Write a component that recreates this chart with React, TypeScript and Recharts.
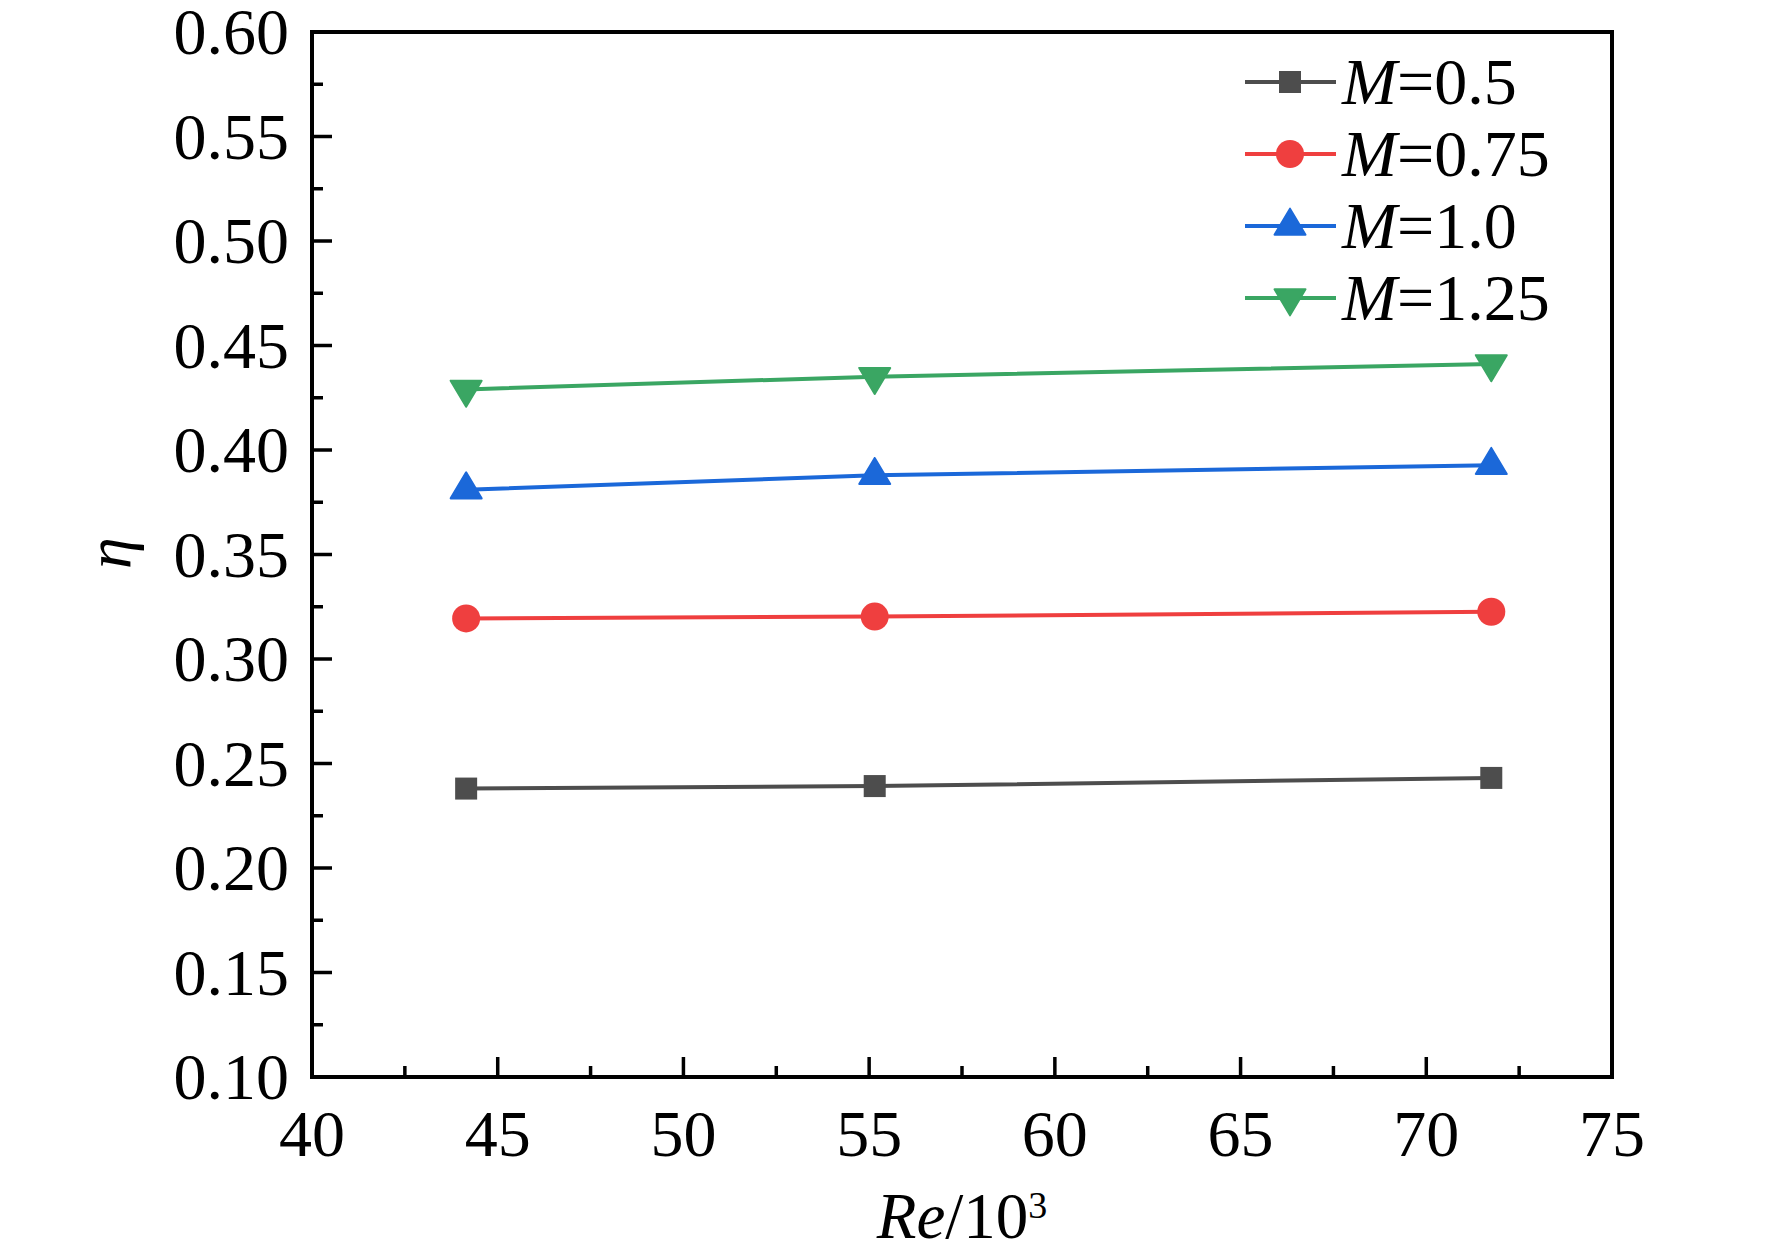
import React from 'react';
import { LineChart, Line, XAxis, YAxis, ReferenceArea, Legend, Label } from 'recharts';

const FONT = '"Liberation Serif", "Times New Roman", serif';

// Re/10^3 values (x)
const reValues = [44.15, 55.15, 71.75];
// efficiency eta for each Mach number
const etaM05 = [0.238, 0.2392, 0.2431];
const etaM075 = [0.3194, 0.3203, 0.3226];
const etaM10 = [0.381, 0.3879, 0.3927];
const etaM125 = [0.429, 0.4351, 0.4412];

const seriesKeys = ['m05', 'm075', 'm10', 'm125'];
const seriesLabels = ['0.5', '0.75', '1.0', '1.25'];
const seriesColors = ['#4D4D4D', '#EF3F3F', '#1B68D9', '#3AA663'];
const seriesMarkers = ['square', 'circle', 'triUp', 'triDown'];

const xMajorTicks = [40, 45, 50, 55, 60, 65, 70, 75];
const xMinorTicks = [42.5, 47.5, 52.5, 57.5, 62.5, 67.5, 72.5];
const yMajorTicks = [0.1, 0.15, 0.2, 0.25, 0.3, 0.35, 0.4, 0.45, 0.5, 0.55, 0.6];
const yMinorTicks = [0.125, 0.175, 0.225, 0.275, 0.325, 0.375, 0.425, 0.475, 0.525, 0.575];

const data = reValues.map((re, i) => ({
  re,
  m05: etaM05[i],
  m075: etaM075[i],
  m10: etaM10[i],
  m125: etaM125[i],
}));

const xTicks = [...xMajorTicks, ...xMinorTicks].sort((a, b) => a - b);
const yTicks = [...yMajorTicks, ...yMinorTicks].sort((a, b) => a - b);

function Marker({ type, cx, cy, color }: { type: string; cx: number; cy: number; color: string }) {
  if (type === 'square') {
    return <rect x={cx - 11} y={cy - 11} width={22} height={22} fill={color} />;
  }
  if (type === 'circle') {
    return <circle cx={cx} cy={cy} r={14} fill={color} />;
  }
  const w = 15.5;
  const h = 26;
  if (type === 'triUp') {
    const pts = `${cx},${cy - (2 * h) / 3} ${cx - w},${cy + h / 3} ${cx + w},${cy + h / 3}`;
    return <polygon points={pts} fill={color} stroke={color} strokeWidth={2} strokeLinejoin="round" />;
  }
  const pts = `${cx - w},${cy - h / 3} ${cx + w},${cy - h / 3} ${cx},${cy + (2 * h) / 3}`;
  return <polygon points={pts} fill={color} stroke={color} strokeWidth={2} strokeLinejoin="round" />;
}

const XTick = (props: any) => {
  const { x, y, payload } = props;
  const major = xMajorTicks.includes(payload.value);
  return (
    <g>
      <line x1={x} x2={x} y1={y} y2={y - (major ? 20 : 11)} stroke="#000" strokeWidth={3.5} />
      {major && (
        <text x={x} y={y + 79} textAnchor="middle" fontSize={66} fontFamily={FONT} fill="#000">
          {payload.value}
        </text>
      )}
    </g>
  );
};

const YTick = (props: any) => {
  const { x, y, payload } = props;
  const major = yMajorTicks.includes(payload.value);
  return (
    <g>
      <line x1={x} x2={x + (major ? 20 : 11)} y1={y} y2={y} stroke="#000" strokeWidth={3.5} />
      {major && (
        <text x={x - 23} y={y + 22} textAnchor="end" fontSize={66} fontFamily={FONT} fill="#000">
          {payload.value.toFixed(2)}
        </text>
      )}
    </g>
  );
};

const renderLegend = () => (
  <div style={{ display: 'flex', flexDirection: 'column' }}>
    {seriesKeys.map((k, i) => (
      <div key={k} style={{ display: 'flex', alignItems: 'center', height: 72 }}>
        <svg width={97} height={50} style={{ display: 'block' }}>
          <line x1={0} x2={91} y1={25} y2={25} stroke={seriesColors[i]} strokeWidth={4} />
          <Marker type={seriesMarkers[i]} cx={45} cy={25} color={seriesColors[i]} />
        </svg>
        <span style={{ fontFamily: FONT, fontSize: 66, lineHeight: '72px', color: '#000', whiteSpace: 'nowrap' }}>
          <i>M</i>={seriesLabels[i]}
        </span>
      </div>
    ))}
  </div>
);

const XTitle = (props: any) => {
  const { viewBox } = props;
  const cx = viewBox.x + viewBox.width / 2;
  return (
    <text x={cx} y={1238} textAnchor="middle" fontSize={65} fontFamily={FONT} fill="#000">
      <tspan fontStyle="italic">Re</tspan>
      <tspan>/10</tspan>
      <tspan dy={-20} fontSize={38}>3</tspan>
    </text>
  );
};

const YTitle = () => (
  <text
    x={130}
    y={553}
    transform="rotate(-90 130 553)"
    textAnchor="middle"
    fontSize={64}
    fontStyle="italic"
    fontFamily={FONT}
    fill="#000"
  >
    η
  </text>
);

export default function App() {
  return (
    <div style={{ position: 'relative', width: 1772, height: 1256, background: '#fff' }}>
      <style>{`body{margin:0;background:#fff}`}</style>
      <LineChart
        width={1772}
        height={1256}
        data={data}
        margin={{ top: 32, right: 160, bottom: 0, left: 0 }}
      >
        <XAxis
          dataKey="re"
          type="number"
          domain={[40, 75]}
          ticks={xTicks}
          interval={0}
          allowDataOverflow
          height={179}
          axisLine={false}
          tickLine={false}
          tickSize={0}
          tickMargin={0}
          tick={XTick}
        >
          <Label content={XTitle} />
        </XAxis>
        <YAxis
          type="number"
          domain={[0.1, 0.6]}
          ticks={yTicks}
          interval={0}
          allowDataOverflow
          width={312}
          axisLine={false}
          tickLine={false}
          tickSize={0}
          tickMargin={0}
          tick={YTick}
        >
          <Label content={YTitle} />
        </YAxis>
        <ReferenceArea
          x1={40}
          x2={75}
          y1={0.1}
          y2={0.6}
          fill="none"
          fillOpacity={0}
          stroke="#000"
          strokeWidth={4}
          strokeOpacity={1}
        />
        {seriesKeys.map((k, i) => (
          <Line
            key={k}
            dataKey={k}
            name={`M=${seriesLabels[i]}`}
            stroke={seriesColors[i]}
            strokeWidth={4}
            isAnimationActive={false}
            dot={(p: any) => (
              <Marker key={`${k}-${p.index}`} type={seriesMarkers[i]} cx={p.cx} cy={p.cy} color={seriesColors[i]} />
            )}
            activeDot={false}
          />
        ))}
        <Legend
          layout="vertical"
          align="center"
          verticalAlign="middle"
          content={renderLegend}
          wrapperStyle={{ position: 'absolute', left: 1245, top: 46, width: 420, height: 300, margin: 0 }}
        />
      </LineChart>
    </div>
  );
}
